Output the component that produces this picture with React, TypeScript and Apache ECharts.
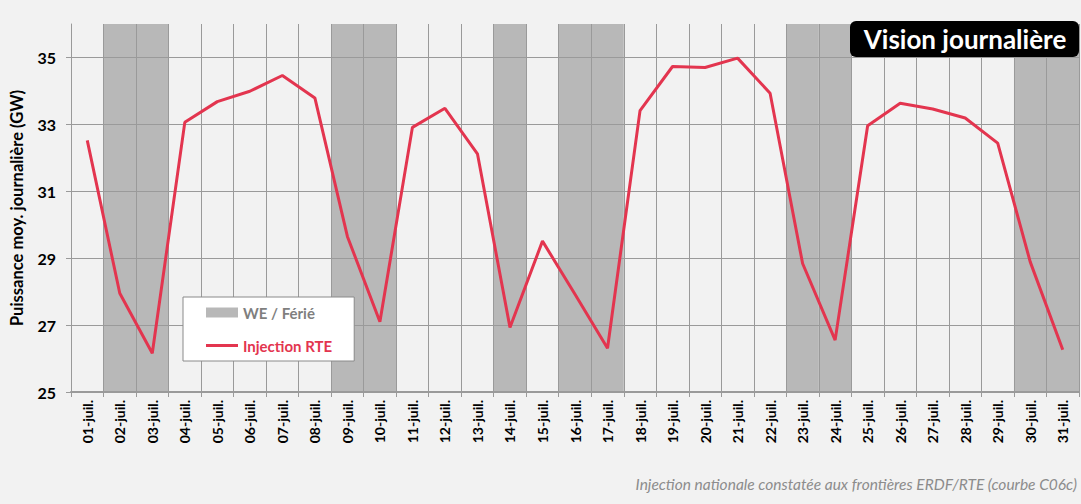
import React, { useEffect, useRef } from 'react';
import * as echarts from 'echarts';

const days = [
  '01-juil.', '02-juil.', '03-juil.', '04-juil.', '05-juil.', '06-juil.', '07-juil.', '08-juil.',
  '09-juil.', '10-juil.', '11-juil.', '12-juil.', '13-juil.', '14-juil.', '15-juil.', '16-juil.',
  '17-juil.', '18-juil.', '19-juil.', '20-juil.', '21-juil.', '22-juil.', '23-juil.', '24-juil.',
  '25-juil.', '26-juil.', '27-juil.', '28-juil.', '29-juil.', '30-juil.', '31-juil.',
];

const injectionRTE = [
  32.52, 27.95, 26.16, 33.06, 33.68, 33.99, 34.46, 33.79, 29.65, 27.1, 32.91, 33.48, 32.12, 26.93, 29.51, 27.92,
  26.31, 33.41, 34.73, 34.7, 34.98, 33.93, 28.84, 26.55, 32.96, 33.63, 33.46, 33.19, 32.44, 28.89, 26.26,
];

// 1 = week-end / jour férié
const weFerie = [0, 1, 1, 0, 0, 0, 0, 0, 1, 1, 0, 0, 0, 1, 0, 1, 1, 0, 0, 0, 0, 0, 1, 1, 0, 0, 0, 0, 0, 1, 1];

const Y_MIN = 25;
const Y_MAX = 36;
const Y_INTERVAL = 2;

const RED = '#E3354F';
const GREY_BAND = '#B8B8B8';
const GRID_COLOR = '#9A9A9A';
const FONT = 'Lato';

export default function App() {
  const ref = useRef<HTMLDivElement>(null);

  useEffect(() => {
    if (!ref.current) return;
    const chart = echarts.init(ref.current, null, { renderer: 'svg' });
    chart.setOption({
      animation: false,
      backgroundColor: '#F2F2F2',
      grid: { left: 71, right: 2, top: 24, bottom: 112, containLabel: false, outerBoundsMode: 'none' },
      legend: {
        orient: 'vertical',
        left: 183,
        top: 297,
        backgroundColor: '#FFFFFF',
        borderColor: '#8A8A8A',
        borderWidth: 1,
        borderRadius: 0,
        padding: [8, 22, 8, 23],
        itemWidth: 32,
        itemHeight: 10,
        itemGap: 18,
        textStyle: { fontFamily: FONT, fontWeight: 'bold', fontSize: 15 },
        data: [
          { name: 'WE / Férié', icon: 'rect', textStyle: { color: '#7F7F7F' } },
          { name: 'Injection RTE', icon: 'path://M0,0 L32,0 L32,3 L0,3 Z', textStyle: { color: RED } },
        ],
      },
      xAxis: {
        type: 'category',
        data: days,
        boundaryGap: true,
        axisLine: { show: true, lineStyle: { color: GRID_COLOR, width: 2 } },
        axisTick: { show: true, interval: 0, length: 5, lineStyle: { color: GRID_COLOR } },
        splitLine: { show: true, interval: 0, lineStyle: { color: GRID_COLOR, width: 1 } },
        axisLabel: {
          interval: 0,
          rotate: 90,
          margin: 8,
          color: '#000',
          fontFamily: FONT,
          fontWeight: 'bold',
          fontSize: 14,
        },
      },
      yAxis: {
        type: 'value',
        min: Y_MIN,
        max: Y_MAX,
        interval: Y_INTERVAL,
        name: 'Puissance moy. journalière (GW)',
        nameLocation: 'middle',
        nameRotate: 90,
        nameGap: 46,
        nameTextStyle: { fontFamily: FONT, fontWeight: 'bold', fontSize: 16.5, color: '#000' },
        axisLine: { show: true, lineStyle: { color: GRID_COLOR, width: 1 } },
        axisTick: { show: true, length: 5, lineStyle: { color: GRID_COLOR } },
        splitLine: { show: true, showMaxLine: false, lineStyle: { color: GRID_COLOR, width: 1 } },
        axisLabel: {
          showMaxLabel: false,
          margin: 15,
          color: '#000',
          fontFamily: FONT,
          fontWeight: 'bold',
          fontSize: 16,
        },
      },
      series: [
        {
          name: 'WE / Férié',
          type: 'bar',
          z: -1,
          silent: true,
          barWidth: '100%',
          barCategoryGap: '0%',
          itemStyle: { color: GREY_BAND },
          data: weFerie.map((f) => (f ? Y_MAX : '-')),
        },
        {
          name: 'Injection RTE',
          type: 'line',
          z: 5,
          symbol: 'none',
          lineStyle: { color: RED, width: 3 },
          itemStyle: { color: RED },
          data: injectionRTE,
        },
      ],
      graphic: [
        {
          type: 'rect',
          z: 100,
          shape: { x: 850, y: 21, width: 229, height: 36, r: 6 },
          style: { fill: '#000000' },
        },
        {
          type: 'text',
          z: 101,
          x: 965,
          y: 39,
          style: {
            text: 'Vision journalière',
            fill: '#FFFFFF',
            fontFamily: FONT,
            fontWeight: 'bold',
            fontSize: 26,
            align: 'center',
            verticalAlign: 'middle',
          },
        },
        {
          type: 'text',
          z: 101,
          x: 1077,
          y: 484,
          style: {
            text: 'Injection nationale constatée aux frontières ERDF/RTE (courbe C06c)',
            fill: '#8C8C8C',
            fontFamily: FONT,
            fontStyle: 'italic',
            fontSize: 15.5,
            align: 'right',
            verticalAlign: 'middle',
          },
        },
      ],
    });
    return () => chart.dispose();
  }, []);

  return (
    <div
      ref={ref}
      style={{ position: 'fixed', left: 0, top: 0, width: 1081, height: 504 }}
    />
  );
}
